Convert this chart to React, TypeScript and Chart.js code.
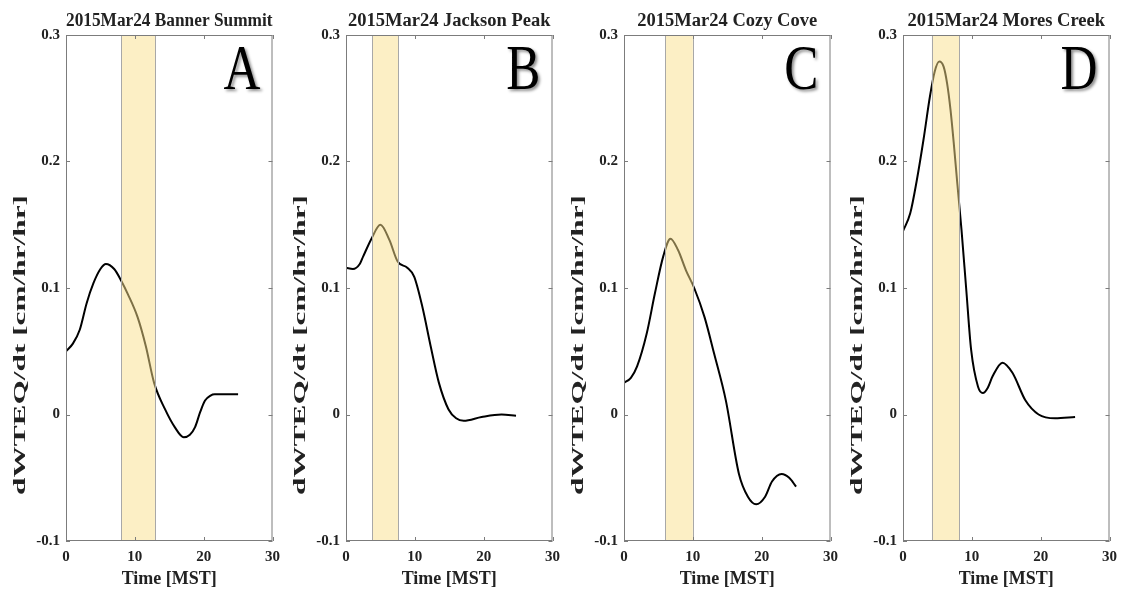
import React, { useEffect, useRef } from "react";
import { Chart, registerables } from "chart.js";

Chart.register(...registerables);

// ---------- data ----------
const xTickValues = [0, 10, 20, 30];
const yTickValues = [-0.1, 0, 0.1, 0.2, 0.3];

const panelTitles = [
  "2015Mar24 Banner Summit",
  "2015Mar24 Jackson Peak",
  "2015Mar24 Cozy Cove",
  "2015Mar24 Mores Creek",
];
const panelLetters = ["A", "B", "C", "D"];
const bandStart = [8, 3.8, 6, 4.2];
const bandEnd = [13, 7.6, 10, 8.2];

const timeA = [0, 1, 2, 3, 4, 5, 5.8, 7, 8, 9, 10.4, 11.6, 12.8, 14.4, 15.8, 17.1, 18, 18.75, 19.5, 20.2, 21, 21.6, 23, 25];
const valueA = [0.05, 0.056, 0.067, 0.088, 0.104, 0.115, 0.119, 0.115, 0.106, 0.095, 0.077, 0.054, 0.025, 0.004, -0.01, -0.018, -0.016, -0.01, 0.002, 0.011, 0.015, 0.016, 0.016, 0.016];

const timeB = [0, 1, 2, 2.5, 3.7, 5, 6.3, 7.5, 8.9, 9.9, 11.1, 12.3, 13.5, 14.9, 16, 17.1, 19.7, 22.6, 24.7];
const valueB = [0.116, 0.115, 0.119, 0.125, 0.139, 0.15, 0.138, 0.121, 0.116, 0.109, 0.085, 0.054, 0.025, 0.004, -0.003, -0.005, -0.002, 0.0, -0.001];

const timeC = [0, 1, 1.9, 3.3, 4.5, 5.7, 6.75, 7.85, 9, 10.2, 11.7, 13.1, 14.8, 16.7, 18, 19.2, 20.5, 21.5, 22.9, 24, 25];
const valueC = [0.025, 0.029, 0.038, 0.064, 0.096, 0.125, 0.139, 0.13, 0.114, 0.1, 0.077, 0.048, 0.011, -0.047, -0.065, -0.071, -0.065, -0.053, -0.047, -0.05, -0.057];

const timeD = [0, 1.05, 2, 2.97, 3.9, 4.6, 5.27, 5.9, 6.4, 6.9, 7.4, 7.9, 8.5, 9.2, 9.9, 10.9, 11.6, 12.3, 13, 14.45, 15.9, 17.8, 19.7, 22.1, 25];
const valueD = [0.145, 0.159, 0.185, 0.217, 0.251, 0.271, 0.279, 0.275, 0.262, 0.241, 0.213, 0.182, 0.146, 0.098, 0.051, 0.022, 0.017, 0.021, 0.03, 0.041, 0.033, 0.011, 0.0, -0.003, -0.002];

const allTimes = [timeA, timeB, timeC, timeD];
const allValues = [valueA, valueB, valueC, valueD];

const yAxisTitle = "dWTEQ/dt [cm/hr/hr]";
const xAxisTitle = "Time [MST]";

// ---------- layout ----------
const canvasLefts = [0, 280, 558, 837];
const CANVAS_W = 287;
const CANVAS_H = 590;
const FONT = '"Liberation Serif", "DejaVu Serif", serif';

const decorPlugin = {
  id: "decor",
  afterDatasetsDraw(chart: any, _args: any, opts: any) {
    const { ctx, chartArea } = chart;
    const { left, right, top, bottom } = chartArea;
    const xs = chart.scales.x;
    const ys = chart.scales.y;
    ctx.save();
    // highlighted band (drawn over the curve, semi-transparent)
    const x0 = xs.getPixelForValue(opts.band[0]);
    const x1 = xs.getPixelForValue(opts.band[1]);
    ctx.fillStyle = "rgba(250,224,140,0.5)";
    ctx.fillRect(x0, top, x1 - x0, bottom - top);
    ctx.strokeStyle = "#a8a8a8";
    ctx.lineWidth = 1;
    ctx.beginPath();
    ctx.moveTo(Math.round(x0) + 0.5, top);
    ctx.lineTo(Math.round(x0) + 0.5, bottom);
    ctx.moveTo(Math.round(x1) + 0.5, top);
    ctx.lineTo(Math.round(x1) + 0.5, bottom);
    ctx.stroke();
    // axes box
    ctx.strokeStyle = "#7c7c7c";
    ctx.strokeRect(left + 0.5, top + 0.5, right - left - 1, bottom - top - 1);
    // inward ticks
    ctx.beginPath();
    xTickValues.forEach((v) => {
      const px = Math.round(xs.getPixelForValue(v)) + 0.5;
      ctx.moveTo(px, bottom);
      ctx.lineTo(px, bottom - 4);
      ctx.moveTo(px, top);
      ctx.lineTo(px, top + 4);
    });
    yTickValues.forEach((v) => {
      const py = Math.round(ys.getPixelForValue(v)) + 0.5;
      ctx.moveTo(left, py);
      ctx.lineTo(left + 4, py);
      ctx.moveTo(right, py);
      ctx.lineTo(right - 4, py);
    });
    ctx.stroke();
    ctx.restore();
  },
  afterDraw(chart: any, _args: any, opts: any) {
    const { ctx, chartArea } = chart;
    const { right, top } = chartArea;
    // panel letter
    ctx.save();
    ctx.font = `64px ${FONT}`;
    ctx.fillStyle = "#000";
    ctx.shadowColor = "rgba(0,0,0,0.45)";
    ctx.shadowBlur = 3;
    ctx.shadowOffsetX = 2;
    ctx.shadowOffsetY = 2;
    ctx.translate(right - 12, top + 54);
    ctx.scale(0.8, 1);
    ctx.textAlign = "right";
    ctx.textBaseline = "alphabetic";
    ctx.fillText(opts.letter, 0, 0);
    ctx.restore();
    // y axis title (stretched along its length)
    ctx.save();
    ctx.font = `bold 17px ${FONT}`;
    ctx.fillStyle = "#222";
    ctx.textAlign = "center";
    ctx.textBaseline = "middle";
    const w = ctx.measureText(yAxisTitle).width;
    ctx.translate(21, 345);
    ctx.rotate(-Math.PI / 2);
    ctx.scale(300 / w, 1);
    ctx.fillText(yAxisTitle, 0, 0);
    ctx.restore();
  },
};

function fmt(v: number) {
  return String(Number(v.toFixed(1)));
}

function Panel({ idx }: { idx: number }) {
  const ref = useRef<HTMLCanvasElement>(null);
  useEffect(() => {
    const canvas = ref.current;
    if (!canvas) return;
    const points = allTimes[idx].map((t, i) => ({ x: t, y: allValues[idx][i] }));
    const chart = new Chart(canvas, {
      type: "line",
      data: {
        datasets: [
          {
            data: points,
            borderColor: "#000",
            borderWidth: 2,
            pointRadius: 0,
            fill: false,
            cubicInterpolationMode: "monotone",
          },
        ],
      },
      options: {
        animation: false,
        responsive: false,
        devicePixelRatio: 1,
        layout: { padding: { left: 0, right: 12, top: 0, bottom: 0 } },
        plugins: {
          legend: { display: false },
          tooltip: { enabled: false },
          title: {
            display: true,
            text: panelTitles[idx],
            fullSize: false,
            color: "#222",
            font: { family: FONT, size: 18.5, weight: "bold", lineHeight: 1.2 },
            padding: { top: 10, bottom: 2.8 },
          },
          decor: { band: [bandStart[idx], bandEnd[idx]], letter: panelLetters[idx] },
        } as any,
        scales: {
          x: {
            type: "linear",
            min: 0,
            max: 30,
            afterBuildTicks: (s: any) => {
              s.ticks = xTickValues.map((v) => ({ value: v }));
            },
            afterFit: (s: any) => {
              s.height = 49;
            },
            grid: { display: false, drawTicks: false },
            border: { display: false },
            ticks: {
              padding: 7,
              color: "#222",
              font: { family: FONT, size: 15, weight: "bold" },
              callback: (v: any) => fmt(Number(v)),
              maxRotation: 0,
              autoSkip: false,
            },
            title: {
              display: true,
              text: xAxisTitle,
              color: "#222",
              font: { family: FONT, size: 18, weight: "bold", lineHeight: 1.2 },
              padding: { top: 0, bottom: 0 },
            },
          },
          y: {
            type: "linear",
            min: -0.1,
            max: 0.3,
            afterBuildTicks: (s: any) => {
              s.ticks = yTickValues.map((v) => ({ value: v }));
            },
            afterFit: (s: any) => {
              s.width = 66;
            },
            grid: { display: false, drawTicks: false },
            border: { display: false },
            ticks: {
              padding: 6,
              color: "#222",
              font: { family: FONT, size: 15, weight: "bold" },
              callback: (v: any) => fmt(Number(v)),
              autoSkip: false,
            },
          },
        },
      },
      plugins: [decorPlugin],
    });
    return () => chart.destroy();
  }, [idx]);
  return (
    <canvas
      ref={ref}
      width={CANVAS_W}
      height={CANVAS_H}
      style={{
        position: "absolute",
        left: canvasLefts[idx],
        top: 0,
        width: CANVAS_W,
        height: CANVAS_H,
      }}
    />
  );
}

export default function App() {
  return (
    <div
      style={{
        position: "absolute",
        left: 0,
        top: 0,
        width: 1125,
        height: 590,
        background: "#fff",
        overflow: "hidden",
      }}
    >
      {[0, 1, 2, 3].map((i) => (
        <Panel key={i} idx={i} />
      ))}
    </div>
  );
}
